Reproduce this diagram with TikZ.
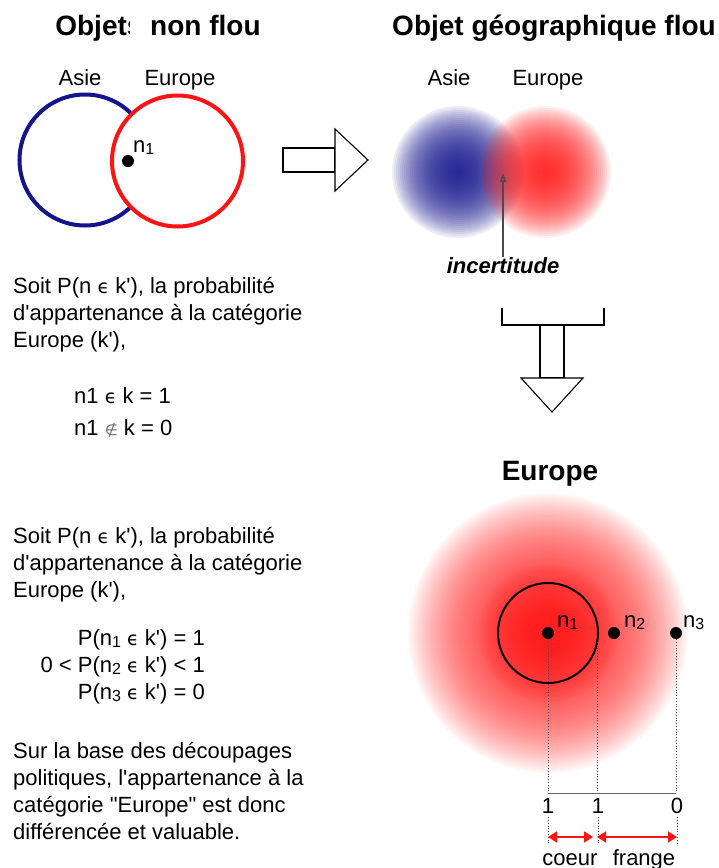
\documentclass[tikz,border=0pt]{standalone}
\usepackage{fontspec}
\setmainfont{Liberation Sans}
\newfontfamily\dvsans{DejaVu Sans}
\usepackage{tikz}
\usetikzlibrary{arrows.meta,positioning}
\definecolor{fnavy}{HTML}{14148C}
\definecolor{fred}{HTML}{FF1414}
\definecolor{fink}{HTML}{4A4A4A}
\newcommand{\kin}{{\dvsans\fontsize{19}{19}\selectfont ϵ}}
\newcommand{\knotin}{{\dvsans\fontsize{15}{15}\selectfont\color{black!55}∉}}
\newcommand{\idx}[1]{\raisebox{-2pt}{\fontsize{16}{16}\selectfont #1}}
\newcommand{\q}{\textquotesingle}

\begin{document}
\begin{tikzpicture}[x=1pt,y=-1pt,
  txt/.style={font=\fontsize{22}{27}\selectfont,inner sep=0pt},
  ttl/.style={font=\fontsize{28}{34}\selectfont\bfseries,inner sep=0pt},
  dot/.style={circle,fill=black,inner sep=0pt,minimum size=12pt},
  hollow/.style={draw=black,line width=1.1pt,fill=white},
  guide/.style={draw=black!70,dotted,line width=0.8pt},
  span/.style={draw=fred,line width=1.6pt,{Triangle[length=9pt,width=11pt]}-{Triangle[length=9pt,width=11pt]}}]
\useasboundingbox (0,0) rectangle (718,868);

% ================= left: crisp object =================
\node[ttl,anchor=base] (ttlA) at (158,35) {Objets non flou};
\fill[white] (129.5,8) rectangle (144,40);                  % the s is cut in the source
\draw[fnavy,line width=4pt] (85,160) circle (65.5);
\draw[fred,fill=white,line width=4pt] (177.5,161) circle (65.5);
\node[txt,anchor=base] (asieA) at (80,85) {Asie};
\node[txt,anchor=base] (euroA) at (180,85) {Europe};
\node[dot] (n1a) at (128,161) {};
\node[txt,anchor=base west] (n1aLbl) at (133,152) {n\idx{1}};

% hollow arrow to the right
\draw[hollow] (283,148) rectangle (335,172);
\draw[hollow] (335,129) -- (368,160) -- (335,191) -- cycle;

% ================= right: fuzzy object =================
\node[ttl,anchor=base] (ttlB) at (554,35) {Objet géographique flou};
\foreach \r in {2,4,...,66}
  \fill[fnavy,opacity=0.07] (458,172) circle (\r);
\foreach \r in {2,4,...,66}
  \fill[fred,opacity=0.065] (545,172) circle (\r);
\node[txt,anchor=base] (asieB) at (449,85) {Asie};
\node[txt,anchor=base] (euroB) at (548,85) {Europe};
\node[txt,anchor=base,font=\fontsize{22}{27}\selectfont\bfseries\itshape] (unc) at (503,273) {incertitude};
\coordinate (uncTip) at (503,173);
\draw[fink,line width=1.4pt,-{Triangle[open,length=9pt,width=6pt]}] (unc.north) -- (uncTip);

% bracket and hollow arrow down
\draw[line width=1.1pt] (502,308) -- (502,325) -- (604,325) -- (604,308);
\draw[hollow] (540,325) rectangle (564,378);
\draw[hollow] (521,378) -- (583,378) -- (552,412) -- cycle;

% ================= left texts =================
\node[txt,anchor=north west,align=left] (para1) at (13,277)
  {Soit P(n \kin{} k\q), la probabilité\\d\q appartenance à la catégorie\\Europe (k\q),};
\node[txt,anchor=north west,align=left,font=\fontsize{22}{32}\selectfont] (eqA) at (74,387)
  {n1 \kin{} k = 1\\n1 \knotin{} k = 0};
\node[txt,anchor=north west,align=left] (para2) at (13,527)
  {Soit P(n \kin{} k\q), la probabilité\\d\q appartenance à la catégorie\\Europe (k\q),};
\node[txt,anchor=north east,align=right] (eqB) at (205,629)
  {P(n\idx{1} \kin{} k\q) = 1\\0 < P(n\idx{2} \kin{} k\q) < 1\\P(n\idx{3} \kin{} k\q) = 0};
\node[txt,anchor=north west,align=left] (para3) at (13,742)
  {Sur la base des découpages\\politiques, l\q appartenance à la\\catégorie \textquotedbl Europe\textquotedbl{} est donc\\différencée et valuable.};

% ================= bottom right: Europe =================
\node[ttl,anchor=base] (ttlC) at (550,480) {Europe};
\foreach \r in {2,4,...,140}
  \fill[fred,opacity=0.03] (548,633) circle (\r);
\foreach \r in {2,4,...,70}
  \fill[fred,opacity=0.04] (548,633) circle (\r);
\draw[line width=2pt] (548,633) circle (50);
\node[dot] (p1) at (548,633) {};
\node[dot] (p2) at (614,633) {};
\node[dot] (p3) at (676,633) {};
\node[txt,anchor=base west] (p1Lbl) at (557,627) {n\idx{1}};
\node[txt,anchor=base west] (p2Lbl) at (624,627) {n\idx{2}};
\node[txt,anchor=base west] (p3Lbl) at (683,627) {n\idx{3}};

% projection onto the membership scale
\coordinate (rim) at (597,642);
\coordinate (b1) at (548,793);
\coordinate (bm) at (597,793);
\coordinate (b3) at (676,793);
\draw[guide] (p1) -- (b1);
\draw[guide] (rim) -- (bm);
\draw[guide] (p3) -- (b3);
\draw[black!60,line width=1pt] (b1) -- (b3);
\node[txt,anchor=base] (v1) at (548,813) {1};
\node[txt,anchor=base] (v2) at (598,813) {1};
\node[txt,anchor=base] (v3) at (677,813) {0};
\foreach \v in {v1,v2,v3}
  \draw[guide] ([yshift=-4pt]\v.south) -- ++(0,28);
\coordinate (c1) at (548,837);
\coordinate (c2) at (593,837);
\coordinate (c3) at (597,837);
\coordinate (c4) at (677,837);
\draw[span] (c1) -- (c2);
\draw[span] (c3) -- (c4);
\node[txt,anchor=base] (coeur) at (570,865) {coeur};
\node[txt,anchor=base] (frange) at (644,865) {frange};
\end{tikzpicture}
\end{document}
